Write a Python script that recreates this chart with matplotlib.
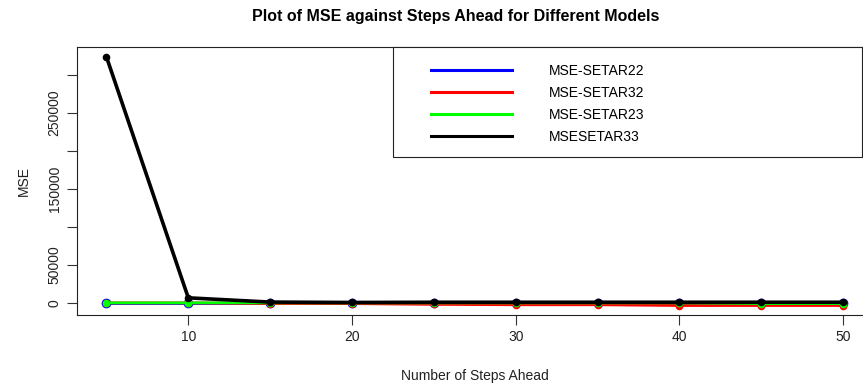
import numpy as np
import matplotlib
matplotlib.use("Agg")
import matplotlib.pyplot as plt
from matplotlib.patches import Rectangle

plt.rcParams.update({"font.family": ["Liberation Sans", "DejaVu Sans"], "font.size": 10})

steps = [5, 10, 15, 20, 25, 30, 35, 40, 45, 50]
mse_setar22 = [0, 0, 0, 0, 0, 0, 0, 0, 0, 0]
mse_setar32 = [0, 0, -1000, -1000, -2000, -2500, -2500, -3500, -3500, -3500]
mse_setar23 = [0, 0, 0, 0, 0, 0, 0, 0, -1000, -1000]
mse_setar33 = [324000, 6600, 1000, 500, 800, 800, 800, 800, 800, 800]

series = [("MSE-SETAR22", mse_setar22, "#0000FF"),
          ("MSE-SETAR32", mse_setar32, "#FF0000"),
          ("MSE-SETAR23", mse_setar23, "#00FF00"),
          ("MSESETAR33", mse_setar33, "#000000")]

W, H = 863, 385
fig = plt.figure(figsize=(W/100, H/100), dpi=100)
ax = fig.add_axes([77/W, 1-315/H, (872.5-77)/W, (315-47)/H])

for lab, y, c in series:
    lw = 2.6 if c == "#000000" else 2.0
    ms = 7 if c == "#0000FF" else 5.5
    ax.plot(steps, y, "-o", color=c, lw=lw, ms=ms, mew=0, label=lab)

ax.set_xlim(3.2, 51.8)
ax.set_ylim(-16000, 337000)
ax.set_xticks([10, 20, 30, 40, 50])
yt = np.arange(0, 300001, 50000)
ax.set_yticks(yt)
ax.set_yticklabels(["0", "50000", "", "150000", "", "250000", ""], rotation=90, va="center")
ax.tick_params(length=7, width=0.8, color="#333333", labelcolor="#222222", pad=4)
for s in ax.spines.values():
    s.set_color("#222222"); s.set_linewidth(0.8)
ax.grid(False)

ax.set_xlabel("Number of Steps Ahead", labelpad=18, color="#222222")
ax.set_ylabel("MSE", labelpad=12, color="#222222")
fig.text(456/W, 1-17/H, "Plot of MSE against Steps Ahead for Different Models",
         ha="center", va="center", fontsize=11.5, fontweight="bold")

# legend box in the top-right corner, entries without frame on top of it
ax.add_patch(Rectangle((393/W, 1-157/H), (862-393)/W, 110/H, transform=fig.transFigure,
                       facecolor="white", edgecolor="#222222", lw=0.8, zorder=5, clip_on=False))
leg = ax.legend(loc="upper left", bbox_to_anchor=(431/W, 1-64/H), bbox_transform=fig.transFigure,
                frameon=False, handlelength=5.8, handletextpad=2.7, labelspacing=0.58,
                borderpad=0, borderaxespad=0, fontsize=10)
leg.set_zorder(6)
for h in leg.legend_handles:
    h.set_marker("")
    h.set_linewidth(2.2)

fig.savefig("out.png", dpi=100)
